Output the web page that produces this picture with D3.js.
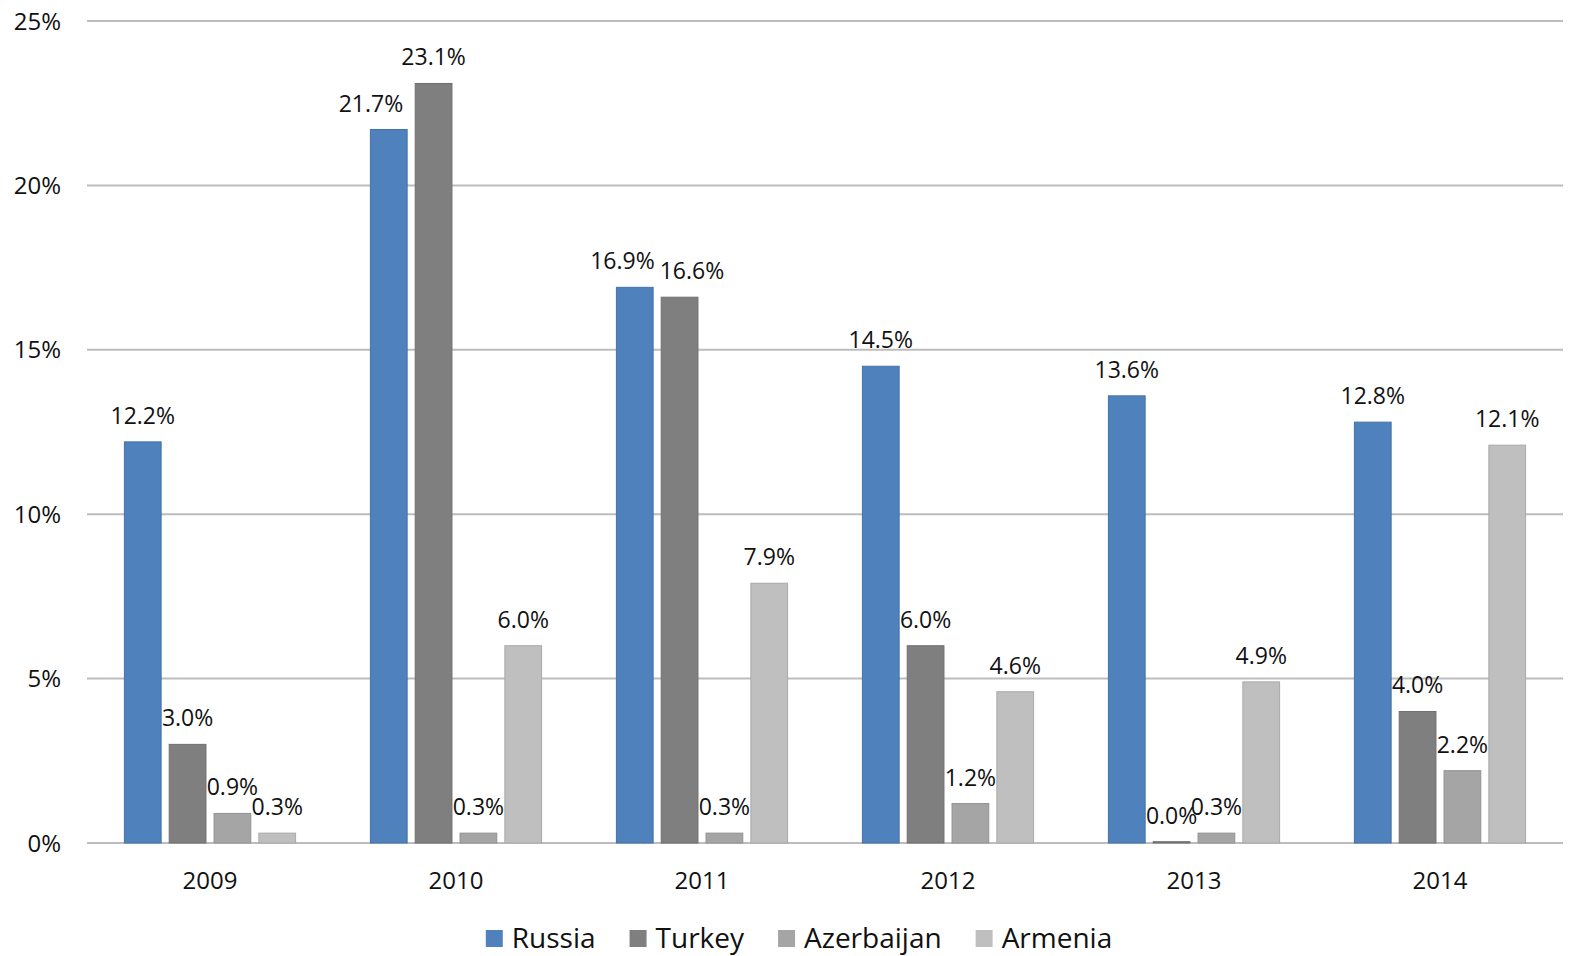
<!DOCTYPE html>
<html><head><meta charset="utf-8">
<script src="https://cdn.jsdelivr.net/npm/d3@7"></script>
<style>html,body{margin:0;padding:0;background:#fff;}text{font-family:"Open Sans","Noto Sans",sans-serif;fill:#111;}</style>
</head><body><svg id="c" width="1573" height="956"></svg>
<script>
const years = ["2009","2010","2011","2012","2013","2014"];
const seriesNames = ["Russia","Turkey","Azerbaijan","Armenia"];
const russia = [12.2,21.7,16.9,14.5,13.6,12.8];
const turkey = [3.0,23.1,16.6,6.0,0.04,4.0];
const azerbaijan = [0.9,0.3,0.3,1.2,0.3,2.2];
const armenia = [0.3,6.0,7.9,4.6,4.9,12.1];
const yTicks = [0,5,10,15,20,25];
const colors = ["#4f81bd","#7f7f7f","#a5a5a5","#bfbfbf"];
const seriesValues = [russia,turkey,azerbaijan,armenia];

(function(){
const svg = d3.select("#c");
svg.append("rect").attr("width",1573).attr("height",956).attr("fill","#fff");
const pL=87,pR=1563,pT=21,pB=843;
const x0 = d3.scaleBand().domain(years).range([pL,pR]).padding(0);
const bw = x0.bandwidth();
const x1 = d3.scaleBand().domain(seriesNames).range([bw*0.152,bw*0.848]).paddingInner(0.18).paddingOuter(0);
const y = d3.scaleLinear().domain([0,25]).range([pB,pT]);

svg.append("g").selectAll("line").data(yTicks).join("line")
  .attr("x1",pL).attr("x2",pR).attr("y1",d=>y(d)).attr("y2",d=>y(d))
  .attr("stroke","#bdbdbd").attr("stroke-width",2);
svg.append("g").selectAll("text").data(yTicks).join("text")
  .attr("x",61).attr("y",d=>y(d)+8.5).attr("text-anchor","end")
  .attr("font-size",24).text(d=>d+"%");
svg.append("g").selectAll("text").data(years).join("text")
  .attr("x",d=>x0(d)+bw/2).attr("y",889).attr("text-anchor","middle")
  .attr("font-size",24).text(d=>d);

const groups = years.map((yr,gi)=>seriesNames.map((s,si)=>({yr,s,si,v:seriesValues[si][gi]})));
const barG = svg.append("g");
groups.forEach(g=>{
  barG.selectAll(null).data(g).join("rect")
    .attr("x",d=>x0(d.yr)+x1(d.s)).attr("width",x1.bandwidth())
    .attr("y",d=>y(d.v)).attr("height",d=>y(0)-y(d.v))
    .attr("fill",d=>colors[d.si]).attr("stroke",d=>d3.color(colors[d.si]).darker(0.35)).attr("stroke-width",1);
});

const labG = svg.append("g");
const H = 17;
groups.forEach(g=>{
  const labs = g.map(d=>{
    const bl = x0(d.yr)+x1(d.s), br = bl+x1.bandwidth();
    const t = labG.append("text").attr("font-size",23).attr("text-anchor","middle").text(d.v.toFixed(1)+"%");
    const w = t.node().getComputedTextLength();
    return {d,t,w,cx:(bl+br)/2,base:y(d.v)-18,bl,br,tp:y(d.v)};
  });
  labs.forEach((L,i)=>{
    const nx = labs[i+1];
    if(nx && L.cx+L.w/2 > nx.bl+3 && L.base > nx.tp) L.cx = nx.bl-12-L.w/2;
    const pv = labs[i-1];
    if(pv && L.cx-L.w/2 < pv.br-3 && L.base > pv.tp) L.cx = pv.br+12+L.w/2;
  });
  for(let i=0;i<labs.length-1;i++){
    const a=labs[i], b=labs[i+1];
    const ov = (a.cx+a.w/2)-(b.cx-b.w/2);
    if(ov>10 && Math.abs(a.base-b.base)<H){ const s=(ov+5)/2; a.cx-=s; b.cx+=s; }
  }
  labs.forEach(L=>L.t.attr("x",L.cx).attr("y",L.base));
});

const legG = svg.append("g");
const items = seriesNames.map((s,i)=>{
  const t = legG.append("text").attr("font-size",28).attr("y",948).text(s);
  return {s,i,t,w:t.node().getComputedTextLength()};
});
const total = d3.sum(items,d=>17+9+d.w) + 34*(items.length-1);
let cx = 799 - total/2;
items.forEach(it=>{
  legG.append("rect").attr("x",cx).attr("y",930).attr("width",17).attr("height",17).attr("fill",colors[it.i]);
  it.t.attr("x",cx+26);
  cx += 26+it.w+34;
});
})();
</script></body></html>
